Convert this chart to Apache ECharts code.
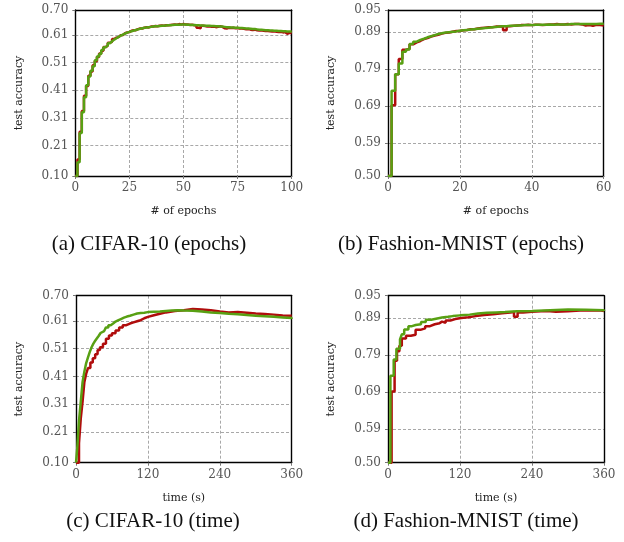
<!DOCTYPE html>
<html><head><meta charset="utf-8">
<script src="https://cdn.jsdelivr.net/npm/echarts@6/dist/echarts.min.js"></script>
<style>html,body{margin:0;padding:0;background:#fff}#c{width:624px;height:542px}</style>
</head><body><div id="c"></div>
<script>
// ---------- data ----------
const captions = ['(a) CIFAR-10 (epochs)', '(b) Fashion-MNIST (epochs)', '(c) CIFAR-10 (time)', '(d) Fashion-MNIST (time)'];
const xNames = ['# of epochs', '# of epochs', 'time (s)', 'time (s)'];
const yName = 'test accuracy';
const yTicksCifar = [0.10, 0.21, 0.31, 0.41, 0.51, 0.61, 0.70];
const yTicksFmnist = [0.50, 0.59, 0.69, 0.79, 0.89, 0.95];
const xTicksA = [0, 25, 50, 75, 100];
const xTicksB = [0, 20, 40, 60];
const xTicksTime = [0, 120, 240, 360];

// (a) CIFAR-10 per epoch (epoch 0..100)
const redA = [
 0.10,0.16,0.26,0.335,0.39,0.425,0.462,0.478,0.50,0.515,
 0.53,0.543,0.553,0.566,0.571,0.582,0.585,0.595,0.60,0.602,
 0.609,0.61,0.616,0.619,0.62,0.625,0.627,0.627,0.631,0.633,
 0.633,0.636,0.638,0.637,0.640,0.640,0.642,0.641,0.643,0.644,
 0.643,0.645,0.645,0.646,0.647,0.648,0.647,0.649,0.648,0.649,
 0.648,0.648,0.646,0.647,0.645,0.644,0.636,0.634,0.643,0.642,
 0.640,0.641,0.639,0.640,0.638,0.639,0.641,0.639,0.634,0.633,
 0.636,0.635,0.636,0.634,0.635,0.633,0.633,0.632,0.630,0.631,
 0.629,0.628,0.629,0.627,0.626,0.627,0.625,0.624,0.624,0.623,
 0.622,0.623,0.621,0.620,0.621,0.619,0.620,0.614,0.618,0.617,
 0.616];
const greenA = [
 0.10,0.15,0.255,0.33,0.385,0.428,0.46,0.48,0.497,0.518,
 0.532,0.541,0.555,0.565,0.572,0.58,0.587,0.593,0.598,0.603,
 0.607,0.611,0.615,0.618,0.621,0.623,0.626,0.628,0.630,0.632,
 0.634,0.636,0.637,0.638,0.639,0.640,0.641,0.641,0.642,0.643,
 0.643,0.644,0.645,0.645,0.646,0.647,0.647,0.647,0.648,0.648,
 0.648,0.647,0.647,0.646,0.646,0.645,0.645,0.644,0.644,0.643,
 0.643,0.643,0.642,0.642,0.641,0.641,0.640,0.640,0.639,0.638,
 0.638,0.637,0.637,0.636,0.636,0.635,0.635,0.634,0.633,0.633,
 0.632,0.631,0.631,0.630,0.629,0.629,0.628,0.627,0.627,0.626,
 0.626,0.625,0.625,0.624,0.624,0.623,0.623,0.622,0.622,0.622,
 0.621];

// (b) Fashion-MNIST per epoch (epoch 0..60)
const redB = [
 0.50,0.692,0.776,0.817,0.842,0.845,0.857,0.862,0.866,0.871,
 0.874,0.878,0.881,0.883,0.886,0.888,0.889,0.891,0.893,0.893,
 0.895,0.896,0.898,0.898,0.900,0.901,0.902,0.903,0.903,0.905,
 0.905,0.906,0.895,0.906,0.907,0.908,0.909,0.909,0.910,0.909,
 0.910,0.910,0.909,0.910,0.911,0.911,0.912,0.911,0.911,0.912,
 0.911,0.912,0.912,0.911,0.908,0.909,0.907,0.910,0.909,0.908,
 0.908];
const greenB = [
 0.50,0.731,0.776,0.805,0.837,0.843,0.858,0.864,0.869,0.872,
 0.876,0.879,0.882,0.885,0.887,0.889,0.890,0.891,0.892,0.894,
 0.895,0.896,0.897,0.898,0.899,0.900,0.901,0.902,0.903,0.904,
 0.905,0.906,0.906,0.907,0.907,0.908,0.908,0.909,0.909,0.909,
 0.910,0.910,0.910,0.910,0.911,0.910,0.911,0.911,0.911,0.911,
 0.912,0.912,0.912,0.912,0.912,0.912,0.912,0.912,0.913,0.913,
 0.913];

// (c) CIFAR-10 vs time
const tRedC = [0,5,8,11,14,17,20,24,28,32,36,40,45,50,55,60,66,72,78,84,90,96,102,108,114,120,130,140,150,165,180,195,210,225,240,255,270,285,300,315,330,345,360];
const vRedC = [0.10,0.17,0.26,0.32,0.39,0.42,0.44,0.46,0.475,0.49,0.505,0.515,0.527,0.545,0.557,0.565,0.575,0.586,0.594,0.600,0.604,0.608,0.612,0.619,0.624,0.630,0.635,0.640,0.645,0.648,0.652,0.650,0.648,0.643,0.640,0.641,0.639,0.636,0.634,0.632,0.629,0.628,0.627];
const tGreenC = [0,2,5,8,11,14,17,20,23,26,29,32,35,38,41,44,47,50,54,58,62,66,70,75,80,85,90,96,102,108,114,120,130,140,150,160,170,180,195,210,225,240,255,270,285,300,315,330,345,360];
const vGreenC = [0.10,0.15,0.25,0.32,0.39,0.428,0.458,0.478,0.498,0.515,0.528,0.538,0.547,0.556,0.566,0.573,0.580,0.586,0.594,0.600,0.607,0.611,0.616,0.621,0.625,0.628,0.632,0.636,0.638,0.639,0.641,0.642,0.643,0.645,0.647,0.648,0.647,0.646,0.643,0.640,0.638,0.635,0.633,0.631,0.628,0.626,0.624,0.622,0.620,0.617];

// (d) Fashion-MNIST vs time
const tRedD = [0,6,11,15,19,23,30,38,46,54,62,70,78,86,90,96,104,112,122,134,146,160,175,190,204,210,216,225,240,255,265,280,300,320,340,355,360];
const vRedD = [0.5,0.692,0.775,0.80,0.815,0.835,0.842,0.845,0.858,0.862,0.868,0.873,0.876,0.880,0.877,0.883,0.887,0.890,0.892,0.895,0.898,0.900,0.903,0.905,0.906,0.893,0.905,0.907,0.908,0.909,0.907,0.908,0.910,0.911,0.910,0.909,0.908];
const tGreenD = [0,4,9.5,14,20,23,27,34,40,46,55,63,72,80,90,100,108,120,136,150,165,180,195,215,240,270,300,330,360];
const vGreenD = [0.5,0.734,0.778,0.807,0.832,0.846,0.859,0.868,0.871,0.873,0.879,0.885,0.888,0.891,0.893,0.895,0.897,0.899,0.902,0.904,0.905,0.906,0.908,0.909,0.911,0.913,0.912,0.911,0.909];

// ---------- chart ----------
const RED = '#b00c0c', GREEN = '#58a013';
const SERIF = 'DejaVu Serif';
const grids = [
  {left: 75.3, top: 10, width: 216.4, height: 166},
  {left: 388, top: 10, width: 215.7, height: 166},
  {left: 76, top: 295.7, width: 215.7, height: 167},
  {left: 388, top: 295.7, width: 216, height: 167}
].map(g => Object.assign(g, {show: false, containLabel: false}));

const dash = {color: '#a8a8a8', type: [3, 2], width: 1};
function mkX(i, ticks) {
  return {
    type: 'value', gridIndex: i, min: ticks[0], max: ticks[ticks.length - 1],
    interval: ticks[1] - ticks[0],
    name: xNames[i], nameLocation: 'middle', nameGap: 30,
    nameTextStyle: {fontFamily: SERIF, fontSize: 11, color: '#222'},
    axisLine: {show: true, onZero: false, lineStyle: {color: '#000', width: 1.4}},
    axisTick: {show: true, length: 3, lineStyle: {color: '#777'}},
    axisLabel: {margin: 6, fontFamily: SERIF, fontSize: 12, color: '#555'},
    splitLine: {show: true, showMinLine: false, showMaxLine: false, lineStyle: dash}
  };
}
function mkXTop(i, ticks) {
  return {type: 'value', gridIndex: i, position: 'top', min: ticks[0], max: ticks[ticks.length - 1],
    axisLine: {show: true, onZero: false, lineStyle: {color: '#000', width: 1.4}},
    axisTick: {show: false}, axisLabel: {show: false}, splitLine: {show: false}};
}
function mkY(i, ticks) {
  return {
    type: 'value', gridIndex: i, min: ticks[0], max: ticks[ticks.length - 1],
    name: yName, nameLocation: 'middle', nameGap: 51,
    nameTextStyle: {fontFamily: SERIF, fontSize: 11, color: '#222'},
    axisLine: {show: true, onZero: false, lineStyle: {color: '#000', width: 1.4}},
    axisTick: {show: true, length: 3, lineStyle: {color: '#777'}, customValues: ticks},
    axisLabel: {margin: 7, fontFamily: SERIF, fontSize: 12, color: '#555', customValues: ticks,
      formatter: v => Number(v).toFixed(2)},
    splitLine: {show: true, showMinLine: false, showMaxLine: false, lineStyle: dash}
  };
}
function mkYRight(i, ticks) {
  return {type: 'value', gridIndex: i, position: 'right', min: ticks[0], max: ticks[ticks.length - 1],
    axisLine: {show: true, onZero: false, lineStyle: {color: '#000', width: 1.4}},
    axisTick: {show: false}, axisLabel: {show: false}, splitLine: {show: false}};
}
function pairsIdx(arr) { return arr.map((v, k) => [k, v]); }
function pairsT(ts, vs) { return ts.map((t, k) => [t, vs[k]]); }
function mkS(i, data, color) {
  return {type: 'line', xAxisIndex: i, yAxisIndex: i, data, step: 'end', symbol: 'none',
    showSymbol: false, clip: true, lineStyle: {color, width: 2.5}, itemStyle: {color}};
}

const captionPos = [[149, 244], [461, 244], [153, 521], [466, 521]];

const option = {
  animation: false,
  backgroundColor: '#fff',
  grid: grids,
  xAxis: [mkX(0, xTicksA), mkX(1, xTicksB), mkX(2, xTicksTime), mkX(3, xTicksTime),
          mkXTop(0, xTicksA), mkXTop(1, xTicksB), mkXTop(2, xTicksTime), mkXTop(3, xTicksTime)],
  yAxis: [mkY(0, yTicksCifar), mkY(1, yTicksFmnist), mkY(2, yTicksCifar), mkY(3, yTicksFmnist),
          mkYRight(0, yTicksCifar), mkYRight(1, yTicksFmnist), mkYRight(2, yTicksCifar), mkYRight(3, yTicksFmnist)],
  series: [
    mkS(0, pairsIdx(redA), RED), mkS(0, pairsIdx(greenA), GREEN),
    mkS(1, pairsIdx(redB), RED), mkS(1, pairsIdx(greenB), GREEN),
    mkS(2, pairsT(tRedC, vRedC), RED), mkS(2, pairsT(tGreenC, vGreenC), GREEN),
    mkS(3, pairsT(tRedD, vRedD), RED), mkS(3, pairsT(tGreenD, vGreenD), GREEN)
  ],
  graphic: captions.map((c, k) => ({
    type: 'text', x: captionPos[k][0], y: captionPos[k][1],
    style: {text: c, align: 'center', verticalAlign: 'middle',
      font: '21px "Liberation Serif"', fill: '#111'}
  }))
};
const chart = echarts.init(document.getElementById('c'), null, {renderer: 'canvas'});
chart.setOption(option);
</script></body></html>
